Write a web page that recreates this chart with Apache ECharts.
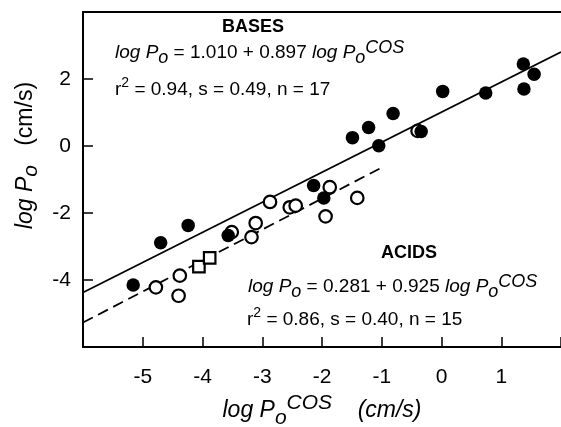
<!DOCTYPE html>
<html><head><meta charset="utf-8">
<script src="https://cdn.jsdelivr.net/npm/echarts@6/dist/echarts.min.js"></script>
<style>html,body{margin:0;padding:0;background:#fff}#c{width:561px;height:427px}</style>
</head><body><div id="c"></div>
<script>
// ---- data ----
const basesX = [-5.16, -4.70, -4.24, -3.57, -2.14, -1.97, -1.49, -1.22, -1.05, -0.81, -0.34, 0.02, 0.74, 1.37, 1.55, 1.38];
const basesY = [-4.15, -2.89, -2.37, -2.67, -1.18, -1.55, 0.25, 0.55, 0.01, 0.97, 0.43, 1.63, 1.58, 2.45, 2.14, 1.70];
const acidsCircleX = [-4.78, -4.38, -4.40, -3.51, -3.11, -3.18, -2.87, -2.54, -2.44, -1.94, -1.87, -1.41, -0.40];
const acidsCircleY = [-4.22, -3.87, -4.47, -2.57, -2.30, -2.72, -1.67, -1.83, -1.78, -2.10, -1.23, -1.55, 0.45];
const acidsSquareX = [-4.06, -3.88];
const acidsSquareY = [-3.60, -3.34];
const basesFit = [1.010, 0.897];   // intercept, slope
const acidsFit = [0.281, 0.925];
const basesFitRange = [-6, 2];
const acidsFitRange = [-6, -1];
const xTicks = [-5, -4, -3, -2, -1, 0, 1];
const yTicks = [-4, -2, 0, 2];
const xRange = [-6, 2];
const yRange = [-6, 4];

const zip = (xs, ys) => xs.map((x, i) => [x, ys[i]]);
const fitLine = (c, r) => r.map(x => [x, c[0] + c[1] * x]);

const FONT = '"Liberation Sans", Arial, sans-serif';
const eqRich = {
  i: {fontFamily: FONT, fontStyle: 'italic', fontSize: 19, lineHeight: 28, color: '#000'},
  n: {fontFamily: FONT, fontSize: 19, lineHeight: 28, color: '#000'},
  sub: {fontFamily: FONT, fontStyle: 'italic', fontSize: 18, lineHeight: 16, verticalAlign: 'bottom', color: '#000'},
  sup: {fontFamily: FONT, fontStyle: 'italic', fontSize: 18, lineHeight: 6, verticalAlign: 'top', color: '#000'},
  sup2: {fontFamily: FONT, fontSize: 14, lineHeight: 8, verticalAlign: 'top', color: '#000'}
};
function txt(x, y, text, align) {
  return {type: 'text', x: x, y: y, z: 10,
    style: {text: text, rich: eqRich, align: align || 'left', verticalAlign: 'middle', fill: '#000'}};
}
function title(x, y, text) {
  return {type: 'text', x: x, y: y, z: 10,
    style: {text: text, font: 'bold 18px ' + FONT, align: 'center', verticalAlign: 'middle', fill: '#000'}};
}

const chart = echarts.init(document.getElementById('c'), null, {renderer: 'canvas'});
chart.setOption({
  animation: false,
  backgroundColor: '#fff',
  grid: {left: 83, top: 12, bottom: 80, right: 0, containLabel: false, outerBoundsMode: 'none'},
  xAxis: [{
    type: 'value', min: xRange[0], max: xRange[1], interval: 1,
    axisLine: {show: true, onZero: false, lineStyle: {color: '#000', width: 2}},
    axisTick: {show: true, inside: true, length: 10, lineStyle: {color: '#000', width: 1.5}},
    axisLabel: {margin: 20, color: '#000', fontSize: 21, fontFamily: FONT,
      formatter: v => xTicks.includes(v) ? String(v) : ''},
    splitLine: {show: false},
    name: '{i|log P}{sub|o}{sup|COS}{n|    (cm/s)}',
    nameLocation: 'middle', nameGap: 46,
    nameTextStyle: {rich: {
      i: {fontFamily: FONT, fontStyle: 'italic', fontSize: 23, lineHeight: 36, color: '#000'},
      n: {fontFamily: FONT, fontStyle: 'italic', fontSize: 23, lineHeight: 36, color: '#000'},
      sub: {fontFamily: FONT, fontStyle: 'italic', fontSize: 21, lineHeight: 20, verticalAlign: 'bottom', color: '#000'},
      sup: {fontFamily: FONT, fontStyle: 'italic', fontSize: 21, lineHeight: 8, verticalAlign: 'top', color: '#000'}
    }}
  }, {
    type: 'value', position: 'top', min: xRange[0], max: xRange[1], interval: 1,
    axisLine: {show: true, onZero: false, lineStyle: {color: '#000', width: 2}},
    axisTick: {show: false}, axisLabel: {show: false}, splitLine: {show: false}
  }],
  yAxis: {
    type: 'value', min: yRange[0], max: yRange[1], interval: 2,
    axisLine: {show: true, onZero: false, lineStyle: {color: '#000', width: 2}},
    axisTick: {show: true, inside: true, length: 10, lineStyle: {color: '#000', width: 1.5}},
    axisLabel: {margin: 12, color: '#000', fontSize: 21, fontFamily: FONT,
      formatter: v => yTicks.includes(v) ? String(v) : ''},
    splitLine: {show: false},
    name: '{i|log P}{sub|o}{n|   (cm/s)}',
    nameLocation: 'middle', nameGap: 34,
    nameTextStyle: {padding: [0, 0, 0, 48], rich: {
      i: {fontFamily: FONT, fontStyle: 'italic', fontSize: 23, lineHeight: 32, color: '#000'},
      n: {fontFamily: FONT, fontSize: 23, lineHeight: 32, color: '#000'},
      sub: {fontFamily: FONT, fontStyle: 'italic', fontSize: 21, lineHeight: 20, verticalAlign: 'bottom', color: '#000'}
    }}
  },
  series: [
    {type: 'line', data: fitLine(basesFit, basesFitRange), symbol: 'none', z: 1,
      lineStyle: {color: '#000', width: 1.8}},
    {type: 'line', data: fitLine(acidsFit, acidsFitRange), symbol: 'none', z: 1,
      lineStyle: {color: '#000', width: 1.8, type: [11, 6]}},
    {type: 'scatter', data: zip(acidsCircleX, acidsCircleY), symbol: 'circle', symbolSize: 12.5, z: 2,
      itemStyle: {color: '#fff', borderColor: '#000', borderWidth: 2.2, opacity: 1}},
    {type: 'scatter', data: zip(acidsSquareX, acidsSquareY), symbol: 'rect', symbolSize: 11.5, z: 2,
      itemStyle: {color: '#fff', borderColor: '#000', borderWidth: 2.2, opacity: 1}},
    {type: 'scatter', data: zip(basesX, basesY), symbol: 'circle', symbolSize: 13.5, z: 3,
      itemStyle: {color: '#000', borderWidth: 0, opacity: 1}}
  ],
  graphic: [
    title(253, 27, 'BASES'),
    txt(115, 53, '{i|log P}{sub|o}{n| = 1.010 + 0.897 }{i|log P}{sub|o}{sup|COS}'),
    txt(115, 90, '{n|r}{sup2|2}{n| = 0.94, s = 0.49, n = 17}'),
    title(409, 253, 'ACIDS'),
    txt(248, 287, '{i|log P}{sub|o}{n| = 0.281 + 0.925 }{i|log P}{sub|o}{sup|COS}'),
    txt(247, 320, '{n|r}{sup2|2}{n| = 0.86, s = 0.40, n = 15}')
  ]
});
</script></body></html>
